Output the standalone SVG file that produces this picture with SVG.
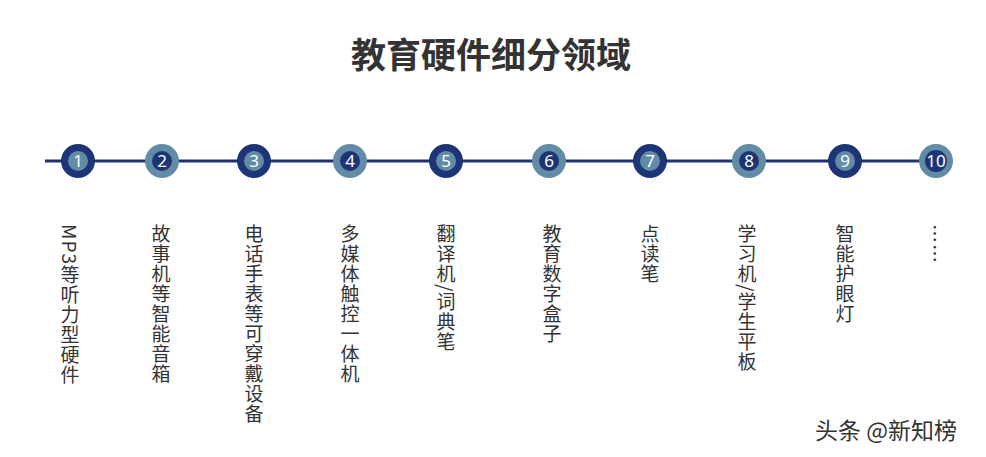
<svg xmlns="http://www.w3.org/2000/svg" width="986" height="457" viewBox="0 0 986 457">
<style>
.t{font-family:"Noto Sans CJK SC","Noto Sans",sans-serif;font-size:19px;letter-spacing:1px;fill:#333;writing-mode:vertical-rl;text-orientation:mixed}
.n{font-family:"Noto Sans","Noto Sans CJK SC",sans-serif;font-size:17px;fill:#fff;text-anchor:middle}
.dk{fill:#1d3577}.lt{fill:#628ba6}
</style>
<rect width="986" height="457" fill="#fff"/>
<text x="491" y="68" text-anchor="middle" font-family="Noto Sans CJK SC,sans-serif" font-size="35" font-weight="bold" fill="#333">教育硬件细分领域</text>
<g id="connectors"><line x1="45" y1="161" x2="938" y2="161" stroke="#1d3577" stroke-width="3"/></g>
<g id="n1"><circle cx="78" cy="161" r="17" class="dk"/><circle cx="78" cy="161" r="10" class="lt"/><text x="78" y="167" class="n">1</text><text x="70" y="224" class="t">MP3等听力型硬件</text></g>
<g id="n2"><circle cx="162" cy="161" r="17" class="lt"/><circle cx="162" cy="161" r="10" class="dk"/><text x="162" y="167" class="n">2</text><text x="161" y="224" class="t">故事机等智能音箱</text></g>
<g id="n3"><circle cx="254" cy="161" r="17" class="dk"/><circle cx="254" cy="161" r="10" class="lt"/><text x="254" y="167" class="n">3</text><text x="254" y="224" class="t">电话手表等可穿戴设备</text></g>
<g id="n4"><circle cx="350" cy="161" r="17" class="lt"/><circle cx="350" cy="161" r="10" class="dk"/><text x="350" y="167" class="n">4</text><text x="350" y="224" class="t">多媒体触控一体机</text></g>
<g id="n5"><circle cx="446" cy="161" r="17" class="dk"/><circle cx="446" cy="161" r="10" class="lt"/><text x="446" y="167" class="n">5</text><text x="446" y="224" class="t">翻译机/词典笔</text></g>
<g id="n6"><circle cx="549" cy="161" r="17" class="lt"/><circle cx="549" cy="161" r="10" class="dk"/><text x="549" y="167" class="n">6</text><text x="552" y="224" class="t">教育数字盒子</text></g>
<g id="n7"><circle cx="650" cy="161" r="17" class="dk"/><circle cx="650" cy="161" r="10" class="lt"/><text x="650" y="167" class="n">7</text><text x="650" y="224" class="t">点读笔</text></g>
<g id="n8"><circle cx="749" cy="161" r="17" class="lt"/><circle cx="749" cy="161" r="10" class="dk"/><text x="749" y="167" class="n">8</text><text x="747" y="224" class="t">学习机/学生平板</text></g>
<g id="n9"><circle cx="845" cy="161" r="17" class="dk"/><circle cx="845" cy="161" r="10" class="lt"/><text x="845" y="167" class="n">9</text><text x="845" y="224" class="t">智能护眼灯</text></g>
<g id="n10"><circle cx="936" cy="161" r="17" class="lt"/><circle cx="936" cy="161" r="11" class="dk"/><text x="936" y="167" class="n">10</text><text x="935" y="224" class="t">……</text></g>
<text x="815" y="439" font-family="Noto Sans CJK SC,sans-serif" font-size="23" fill="#333">头条 @新知榜</text>
</svg>
